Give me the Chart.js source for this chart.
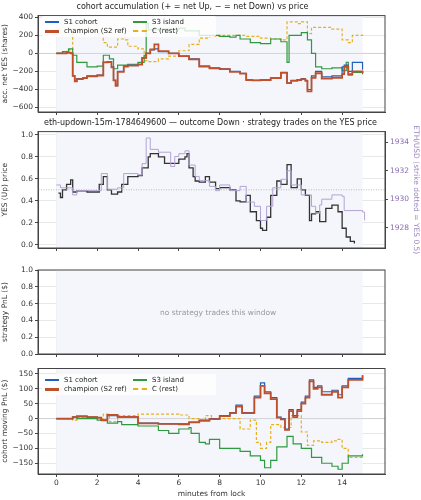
<!DOCTYPE html>
<html><head><meta charset="utf-8">
<script src="https://cdn.jsdelivr.net/npm/chart.js@4/dist/chart.umd.min.js"></script>
<style>
body{margin:0;background:#fff;width:421px;height:500px;position:relative;overflow:hidden;font-family:"DejaVu Sans",sans-serif}
.w{position:absolute;left:0;width:421px}
.leg{position:absolute;font-size:7px;color:#222;display:grid;grid-template-columns:88px 80px;row-gap:1px;background:rgba(255,255,255,0.8);padding:2px 3px;border-radius:2px}
.leg span{display:flex;align-items:center}
.leg i{display:inline-block;width:14px;margin-right:5px;border-top:2px solid}
.note{position:absolute;font-size:7.5px;color:#999;left:160px;top:308px}
</style></head><body>
<div class="w" style="top:0;height:120px"><canvas id="c1" width="421" height="120"></canvas></div>
<div class="w" style="top:116px;height:140px"><canvas id="c2" width="421" height="140"></canvas></div>
<div class="w" style="top:262px;height:100px"><canvas id="c3" width="421" height="100"></canvas></div>
<div class="w" style="top:362px;height:138px"><canvas id="c4" width="421" height="138"></canvas></div>
<div class="leg" style="left:42px;top:16px"><span><i style="border-color:#1f5fbf"></i>S1 cohort</span><span><i style="border-color:#2e9a3e"></i>S3 island</span><span><i style="border-color:#c0502a;border-top-width:3px"></i>champion (S2 ref)</span><span><i style="border-color:#e6b020;border-top-style:dashed"></i>C (rest)</span></div>
<div class="leg" style="left:42px;top:374px"><span><i style="border-color:#1f5fbf"></i>S1 cohort</span><span><i style="border-color:#2e9a3e"></i>S3 island</span><span><i style="border-color:#c0502a;border-top-width:3px"></i>champion (S2 ref)</span><span><i style="border-color:#e6b020;border-top-style:dashed"></i>C (rest)</span></div>
<div class="note">no strategy trades this window</div>
<script>
// ---- data ----
const accT  =[0,0.5,0.7,0.8,0.9,1.0,1.3,1.5,2.0,2.3,2.5,2.7,2.8,2.9,3.0,3.3,3.5,4.0,4.2,4.4,4.6,4.8,5.0,5.5,6.0,6.5,7.0,7.5,8.0,8.5,9.0,9.3,9.6,10.0,10.5,11.0,11.3,11.5,11.8,12.0,12.2,12.3,12.5,12.7,13.0,13.5,14.0,14.1,14.3,14.5,15.0];
const accS1 =[0,10,0,-250,-310,-280,-270,-250,-240,-100,-90,-150,-300,-350,-200,-140,-130,-120,-50,0,40,50,20,0,-30,-60,-140,-160,-170,-200,-220,-290,-300,-290,-270,-210,-330,-300,-290,-280,-300,-400,-250,-200,-260,-250,-150,-130,-200,-100,-180];
const accS2 =[0,10,0,-250,-310,-285,-275,-255,-245,-100,-95,-155,-300,-360,-205,-145,-135,-125,-50,0,45,100,25,0,-30,-65,-145,-165,-175,-205,-225,-295,-300,-295,-275,-215,-330,-305,-295,-285,-305,-420,-270,-220,-280,-270,-230,-150,-230,-200,-220];
const s3T   =[0,0.3,0.6,0.8,1.0,1.5,2.0,2.3,2.6,2.8,3.0,3.5,4.0,4.3,4.4,4.5,5.0,6.0,6.3,7.0,8.0,8.5,8.8,9.0,9.5,10.0,10.5,11.0,11.3,11.4,12.0,12.3,12.5,12.7,13.0,13.5,14.0,14.2,14.3,14.5,15.0];
const accS3 =[0,20,50,-20,-100,-150,-140,-20,-60,-170,-130,-120,-100,-20,330,260,270,280,250,200,190,180,200,160,120,110,160,130,-100,200,230,150,0,-150,-170,-160,-190,-100,-240,-210,-230];
const cT    =[0,0.5,0.8,1.0,1.5,2.0,2.3,2.5,3.0,3.3,3.5,4.0,4.3,4.5,5.0,5.5,6.0,6.5,7.0,7.5,8.0,9.0,9.3,10.0,10.5,11.0,11.3,11.8,12.0,12.3,12.5,13.0,13.5,14.0,14.3,14.5,15.0];
const accC  =[0,40,270,270,250,220,120,70,160,150,80,50,-80,-90,-60,-30,30,100,170,190,200,200,190,170,160,150,350,330,350,220,290,290,270,150,120,200,210];
const pT    =[0.1,0.2,0.3,0.5,0.7,0.8,1.0,1.5,2.0,2.1,2.3,2.5,2.7,3.0,3.2,3.5,4.0,4.2,4.5,4.6,5.0,5.3,6.0,6.3,6.4,6.5,6.7,6.8,7.0,7.3,7.5,7.8,8.0,8.5,8.8,9.0,9.3,9.5,9.8,10.0,10.1,10.3,10.5,10.8,11.0,11.3,11.5,11.8,12.0,12.2,12.4,12.5,12.7,12.9,13.2,13.5,13.8,14.0,14.2,14.4,14.6];
const yesP  =[0.47,0.43,0.5,0.55,0.59,0.48,0.49,0.48,0.48,0.55,0.62,0.5,0.46,0.48,0.55,0.62,0.63,0.7,0.8,0.83,0.8,0.74,0.78,0.8,0.83,0.7,0.62,0.58,0.57,0.62,0.57,0.51,0.52,0.5,0.4,0.39,0.45,0.3,0.22,0.15,0.13,0.25,0.45,0.58,0.55,0.73,0.52,0.6,0.5,0.45,0.22,0.28,0.3,0.21,0.33,0.36,0.3,0.15,0.07,0.03,0.01];
const eT    =[0,0.2,0.5,0.8,1.0,2.0,2.2,2.5,3.0,3.3,4.0,4.2,4.4,4.6,5.0,5.5,5.6,5.8,6.0,6.3,6.5,6.8,7.0,7.5,7.8,8.0,8.5,9.0,9.3,9.7,10.0,10.3,10.6,11.0,11.3,11.5,12.0,12.5,12.7,12.9,13.0,13.5,14.0,14.1,15.0,15.1];
const ethP  =[1931,1930.8,1930.8,1930.3,1930.6,1930.6,1931.8,1930.7,1930.8,1931.8,1931.7,1932.5,1934.3,1933.5,1933.3,1933.3,1932.3,1933.0,1933.2,1933.4,1932.4,1931.6,1931.3,1930.9,1930.6,1931.0,1930.6,1930.9,1929.8,1929.5,1928.5,1929.5,1930.8,1931.4,1932.0,1931.0,1930.3,1929.5,1929.0,1929.6,1930.0,1930.3,1930.2,1929.2,1929.1,1928.5];
const mT    =[0,0.8,1.0,1.5,2.0,2.2,2.5,3.0,4.0,5.0,6.0,6.5,7.0,7.5,8.0,8.5,8.8,9.1,9.5,9.7,10.0,10.2,10.5,10.8,11.0,11.2,11.4,11.6,11.8,12.0,12.2,12.4,12.6,12.8,13.0,13.5,13.8,14.0,14.3,15.0];
const pnlS1 =[0,5,8,5,3,-5,10,5,-15,-18,-18,-12,-5,0,10,20,45,20,20,75,120,90,70,5,0,-35,30,10,30,55,75,130,105,110,90,95,80,110,135,145];
const pnlS2 =[0,5,7,5,3,-6,12,6,-16,-18,-19,-13,-8,-2,8,18,40,18,18,70,110,85,65,3,-3,-38,25,5,25,50,70,125,100,105,80,90,70,105,130,145];
const m3T   =[0,0.8,1.0,2.0,2.5,3.0,3.2,4.0,5.0,5.5,6.0,6.5,6.6,7.0,7.3,7.5,8.0,8.5,9.0,9.5,10.0,10.2,10.5,10.8,11.3,11.6,12.0,12.5,13.0,13.5,13.8,14.0,14.3,15.0];
const pnlS3 =[0,5,0,-5,-15,-10,-20,-25,-40,-50,-35,-30,-50,-80,-85,-70,-100,-100,-110,-125,-140,-165,-140,-95,-60,-85,-100,-130,-150,-160,-170,-150,-125,-120];
const mCT   =[0,0.8,1,2,2.3,2.6,3,4,5,6,6.5,7,7.3,7.6,8,8.5,9,9.3,9.5,9.8,10,10.3,10.5,11,11.5,12,12.3,12.6,13,13.5,13.8,14,14.3,15];
const pnlC  =[0,-5,5,0,15,-10,10,15,15,12,0,-5,10,0,0,0,-35,-35,-5,-80,-100,-80,-20,-30,10,-45,-90,-75,-80,-75,-70,-100,-130,-135];

const pts=(t,v)=>t.map((x,i)=>({x,y:v[i]}));
const FONT={family:'DejaVu Sans',size:7.5};
Chart.defaults.font=FONT;Chart.defaults.color='#333';
const bg={id:'bg',beforeDatasetsDraw(c){const {ctx,chartArea:a,scales:{x}}=c;ctx.save();ctx.fillStyle='#f4f6fb';const l=x.getPixelForValue(0),r=x.getPixelForValue(15);ctx.fillRect(l,a.top,r-l,a.bottom-a.top);ctx.restore();},
 afterDraw(c){const {ctx,chartArea:a}=c;ctx.save();ctx.strokeStyle='#444';ctx.lineWidth=1;ctx.strokeRect(a.left,a.top,a.right-a.left,a.bottom-a.top);ctx.restore();}};
function line(data,color,opts={}){return Object.assign({data,borderColor:color,borderWidth:1.2,pointRadius:0,stepped:true,fill:false},opts);}
function xAxis(show){return {type:'linear',min:-0.9,max:16.1,afterBuildTicks(s){s.ticks=[0,2,4,6,8,10,12,14].map(v=>({value:v}));},
 grid:{color:'#e8e8e8',tickLength:3,tickColor:'#444'},border:{color:'#444'},
 ticks:{display:show,font:FONT,color:'#333',padding:2},
 title:{display:show,text:'minutes from lock',font:{family:'DejaVu Sans',size:7.5},padding:1},afterFit(s){s.height=show?26:8;}};}
function yAxis(min,max,step,title,pos='left'){return {position:pos,min,max,afterBuildTicks(s){const t=[];for(let v=Math.ceil(min/step)*step;v<=max+1e-9;v+=step)t.push({value:+v.toFixed(4)});s.ticks=t;},
 grid:{color:pos==='left'?'#e8e8e8':'transparent',tickLength:3,tickColor:'#444'},border:{color:'#444'},
 ticks:{font:FONT,color:pos==='left'?'#333':'#8a6fb0',padding:2,callback:v=>(step<1?v.toFixed(1):v).toString().replace('-','−')},
 title:{display:true,text:title,font:{family:'DejaVu Sans',size:7.5},color:pos==='left'?'#333':'#9c86c0',padding:1},afterFit(s){s.width=pos==='left'?38:36;}};}
function mk(id,datasets,scales,title,padTop){const cv=document.getElementById(id);return new Chart(cv,{type:'line',data:{datasets},
 options:{responsive:false,maintainAspectRatio:false,animation:false,events:[],layout:{padding:{top:padTop||0,right:scales.y2?0:36,left:0}},
 plugins:{legend:{display:false},tooltip:{enabled:false},title:{display:!!title,text:title,font:{family:'DejaVu Sans',size:8,weight:'normal'},color:'#222',padding:{top:2,bottom:4}}},scales}
 ,plugins:[bg]});}
mk('c1',[
 line(pts(accT,accS2),'#c0502a',{borderWidth:1.8}),
 line(pts(accT,accS1),'#1f5fbf'),
 line(pts(s3T,accS3),'#2e9a3e'),
 line(pts(cT,accC),'#e6b020',{borderDash:[3,2]}),
 line([{x:-1,y:0},{x:17,y:0}],'#cccccc',{borderWidth:0.8,stepped:false})
],{x:xAxis(false),y:yAxis(-650,420,200,'acc. net YES (shares)')},'cohort accumulation (+ = net Up, − = net Down) vs price');
mk('c2',[
 line([{x:-1,y:0.5},{x:17,y:0.5}],'#aaaaaa',{borderWidth:0.8,stepped:false,borderDash:[1,1.5]}),
 line(pts(eT,ethP),'#b3a3d6',{borderWidth:1,yAxisID:'y2'}),
 line(pts(pT,yesP),'#333333',{borderWidth:1.3})
],{x:xAxis(false),y:yAxis(-0.03,1.03,0.2,'YES (Up) price'),y2:yAxis(1926.57,1934.75,2,'ETH/USD (strike dotted = YES 0.5)','right')},'eth-updown-15m-1784649600 — outcome Down · strategy trades on the YES price');
mk('c3',[],{x:xAxis(false),y:yAxis(0,1,0.2,'strategy PnL ($)')},null,8);
mk('c4',[
 line(pts(mT,pnlS2),'#c0502a',{borderWidth:1.8}),
 line(pts(mT,pnlS1),'#1f5fbf'),
 line(pts(m3T,pnlS3),'#2e9a3e'),
 line(pts(mCT,pnlC),'#e6b020',{borderDash:[3,2]}),
 line([{x:-1,y:0},{x:17,y:0}],'#cccccc',{borderWidth:0.8,stepped:false})
],{x:xAxis(true),y:yAxis(-186,168,50,'cohort moving PnL ($)')},null,2);
</script></body></html>
